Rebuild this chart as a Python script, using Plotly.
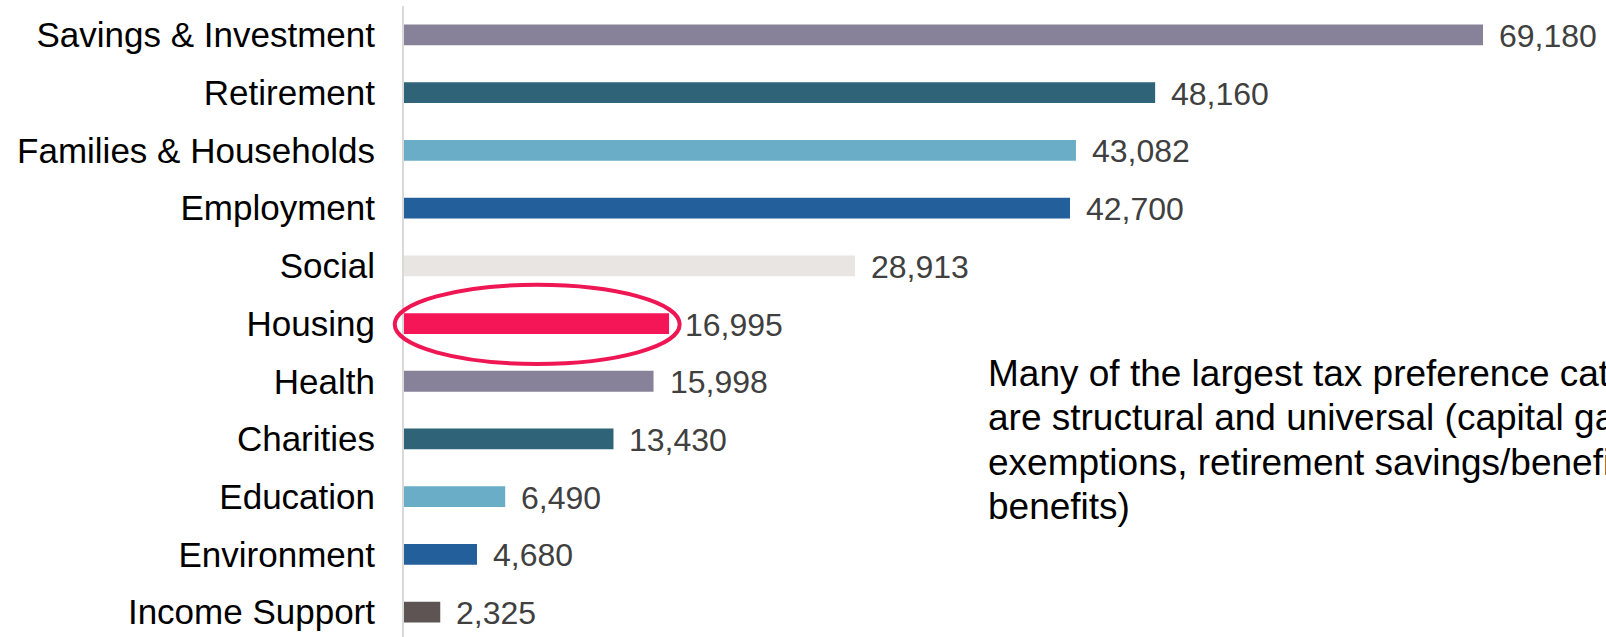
import plotly.graph_objects as go

categories = ["Savings & Investment", "Retirement", "Families & Households", "Employment",
              "Social", "Housing", "Health", "Charities", "Education", "Environment",
              "Income Support"]
values = [69180, 48160, 43082, 42700, 28913, 16995, 15998, 13430, 6490, 4680, 2325]
value_labels = ["69,180", "48,160", "43,082", "42,700", "28,913", "16,995", "15,998",
                "13,430", "6,490", "4,680", "2,325"]
colors = ["#878299", "#2E6378", "#6AADC6", "#235F9A", "#E9E5E3", "#F51657",
          "#878299", "#2E6378", "#6AADC6", "#235F9A", "#5E5454"]
note_lines = ["Many of the largest tax preference categories",
              "are structural and universal (capital gains",
              "exemptions, retirement savings/benefits, family",
              "benefits)"]
highlight = "Housing"

W, H = 1606, 637
ML, MT = 404, 6
PW, PH = W - ML, H - MT
XMAX = 77066
YR = [10.43, -0.5]


def xpaper(v):
    return v / XMAX


def ypaper(idx):
    return (YR[0] - idx) / (YR[0] - YR[1])


fig = go.Figure()
fig.add_trace(go.Bar(
    y=categories, x=values, orientation="h",
    marker=dict(color=colors, line=dict(width=0)),
    hoverinfo="skip",
))

for c, v, t in zip(categories, values, value_labels):
    fig.add_annotation(x=v, y=c, text=t, showarrow=False, xanchor="left", yanchor="middle",
                       xshift=14, yshift=-1,
                       font=dict(family="Liberation Sans, Arial", size=32, color="#404040"))

# note text
for i, line in enumerate(note_lines):
    fig.add_annotation(xref="paper", yref="paper", x=(986 - ML) / PW,
                       y=1 - (373 + 44.5 * i - MT) / PH,
                       text=line, showarrow=False, xanchor="left", yanchor="middle",
                       font=dict(family="Liberation Sans, Arial", size=37, color="#000000"))

# highlight ellipse around the Housing bar
hi = categories.index(highlight)
hv = values[hi]
fig.add_shape(type="circle", xref="paper", yref="paper",
              x0=xpaper(-0.035 * hv), x1=xpaper(hv * 1.04),
              y0=ypaper(hi + 0.70), y1=ypaper(hi - 0.672),
              line=dict(color="#EE1653", width=4), fillcolor="rgba(0,0,0,0)")

fig.update_layout(
    width=W, height=H,
    margin=dict(l=ML, r=0, t=MT, b=0),
    paper_bgcolor="white", plot_bgcolor="white",
    bargap=0.64, showlegend=False,
    xaxis=dict(range=[0, XMAX], showgrid=False, zeroline=False, showticklabels=False,
               showline=False, fixedrange=True),
    yaxis=dict(type="category", range=YR, showgrid=False, zeroline=False,
               showline=True, linecolor="#D9D9D9", linewidth=2,
               ticks="", ticklabelstandoff=20,
               tickfont=dict(family="Liberation Sans, Arial", size=35, color="#000000")),
)

fig.write_html("out.html")
